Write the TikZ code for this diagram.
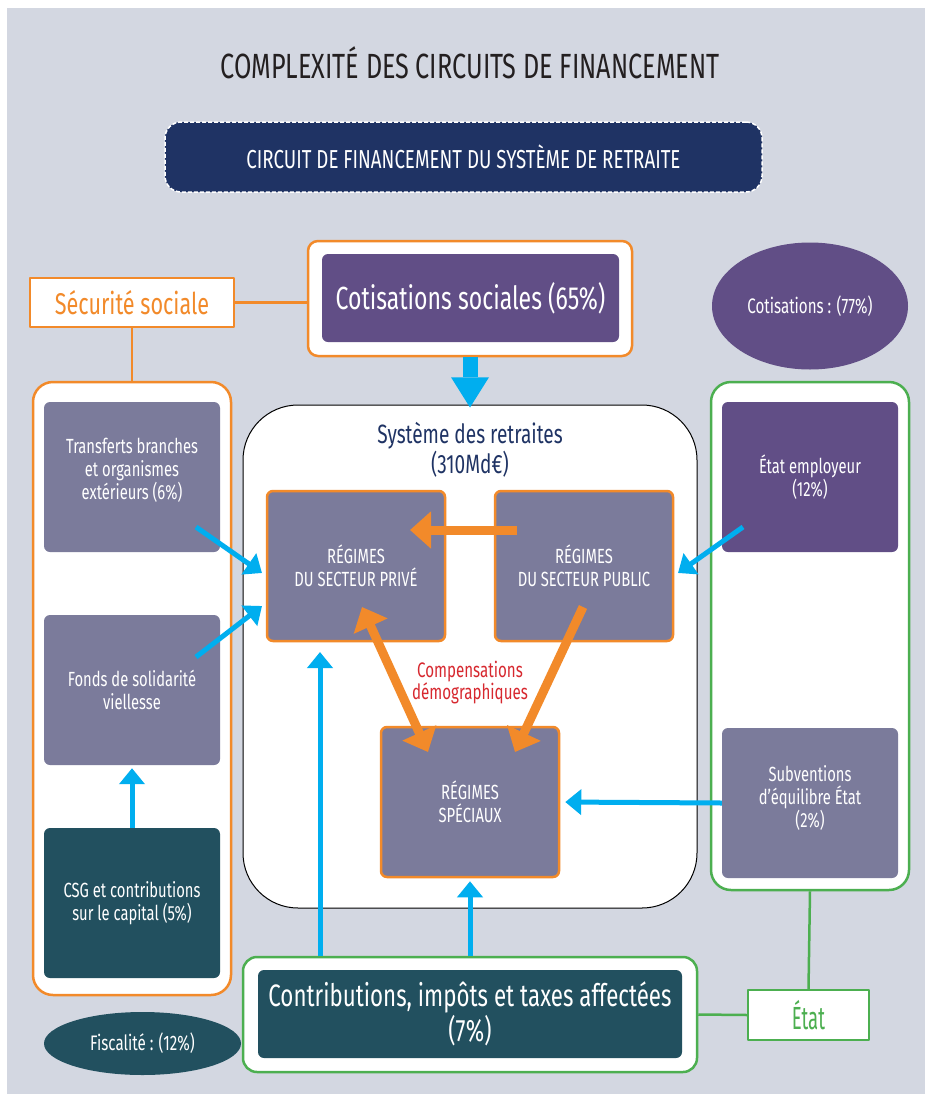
\documentclass[tikz,border=0pt]{standalone}
\usepackage{fontspec}
\setmainfont{Fira Sans}[FakeStretch=0.72]
\newfontfamily\narrowfont{Fira Sans}[FakeStretch=0.58]
\usetikzlibrary{arrows.meta,shapes.geometric}

\definecolor{bgcol}{HTML}{D3D7E1}
\definecolor{navy}{HTML}{1F3364}
\definecolor{plum}{HTML}{614E86}
\definecolor{slate}{HTML}{7B7B9B}
\definecolor{teal}{HTML}{22505F}
\definecolor{orng}{HTML}{F28A2A}
\definecolor{grn}{HTML}{4CAF50}
\definecolor{sky}{HTML}{00AEEF}
\definecolor{rouge}{HTML}{D7282F}
\definecolor{ink}{HTML}{231F20}

\begin{document}
\begin{tikzpicture}[x=1pt,y=-1pt,line join=round]
\tikzstyle{every node}=[align=center, inner sep=0pt]
\tikzstyle{tiletext}=[text=white, font=\fontsize{20.5}{23}\selectfont]
\tikzstyle{tile}=[rectangle, rounded corners=6pt, minimum width=176pt, minimum height=150pt, tiletext]
\tikzstyle{regime}=[tile, draw=orng, line width=2.5pt, minimum width=178pt]
\tikzstyle{frame}=[draw, fill=white, rounded corners=20pt, line width=2.5pt]
\tikzstyle{tag}=[draw, fill=white, line width=1.5pt]
\tikzstyle{blob}=[ellipse, text=white, font=\fontsize{21}{24}\selectfont]
\tikzstyle{flow}=[draw=sky, line width=5pt, -{Triangle[length=16pt,width=25pt]}]
\tikzstyle{comp}=[draw=orng, line width=9pt, -{Triangle[length=21pt,width=36pt]}]

\useasboundingbox (0,0) rectangle (927,1098);
\fill[bgcol] (7,8) rectangle (925,1094);

\node[text=ink] (title) at (470,63) {\fontsize{35}{38}\selectfont COMPLEXITÉ DES CIRCUITS DE FINANCEMENT};
\node[fill=navy, draw=white, dash pattern=on 4pt off 2pt, line width=1.5pt, rounded corners=16pt,
      minimum width=597pt, minimum height=70pt, text=white, font=\fontsize{26}{28}\selectfont]
      (head) at (463.5,157) {CIRCUIT DE FINANCEMENT DU SYSTÈME DE RETRAITE};

% outer frames
\node[frame, draw=orng, rounded corners=10pt, minimum width=324pt, minimum height=115pt] (cotout) at (470,298.5) {};
\node[frame, draw=orng, minimum width=198pt, minimum height=613pt] (left) at (132,688.5) {};
\node[frame, draw=grn, minimum width=198pt, minimum height=508pt] (right) at (810,636) {};
\node[frame, draw=grn, rounded corners=14pt, minimum width=454pt, minimum height=115pt] (contout) at (470,1014.5) {};
\node[draw=black, fill=white, line width=1pt, rounded corners=55pt, minimum width=454pt, minimum height=503pt] (sys) at (470,656.5) {};

% labels
\node[tag, draw=orng, text=orng, minimum width=204pt, minimum height=49pt, font=\fontsize{30}{32}\selectfont] (secu) at (132,302.5) {Sécurité sociale};
\node[tag, draw=grn, text=grn, minimum width=121pt, minimum height=50pt, font=\narrowfont\fontsize{32}{34}\selectfont] (etat) at (808.5,1015) {État};

% sources
\node[tile, fill=plum, minimum width=297pt, minimum height=88pt, font=\fontsize{32}{36}\selectfont] (cotis) at (470.5,298) {Cotisations sociales (65\%)};
\node[blob, fill=plum, minimum width=196pt, minimum height=127pt] (cot77) at (810,306) {Cotisations : (77\%)};
\node[tile, fill=slate, label={[tiletext, yshift=7pt]center:Transferts branches\\et organismes\\extérieurs (6\%)}] (transf) at (132,477) {};
\node[tile, fill=slate] (fonds) at (132,690) {Fonds de solidarité\\viellesse};
\node[tile, fill=teal] (csg) at (132,903) {CSG et contributions\\sur le capital (5\%)};
\node[tile, fill=plum] (etatemp) at (810,477) {État employeur\\(12\%)};
\node[tile, fill=slate, label={[tiletext, yshift=5pt]center:Subventions\\d’équilibre État\\(2\%)}] (subv) at (810,803) {};
\node[tile, fill=teal, minimum width=424pt, minimum height=88pt, font=\fontsize{31}{35}\selectfont] (contrib) at (470,1014) {Contributions, impôts et taxes affectées\\(7\%)};
\node[blob, fill=teal, minimum width=197pt, minimum height=63pt] (fisc) at (142.5,1043.5) {Fiscalité : (12\%)};

% pension schemes
\node[text=navy, font=\fontsize{26.5}{30}\selectfont] (systitle) at (470,450) {Système des retraites\\(310Md€)};
\node[regime, fill=slate] (prive) at (356,566) {RÉGIMES\\DU SECTEUR PRIVÉ};
\node[regime, fill=slate] (public) at (584,566) {RÉGIMES\\DU SECTEUR PUBLIC};
\node[regime, fill=slate] (spec) at (470,802) {RÉGIMES\\SPÉCIAUX};
\node[text=rouge, font=\fontsize{21}{22}\selectfont] (compens) at (470,683) {Compensations\\démographiques};

% links
\draw[orng, line width=2.5pt] (secu.east) -- (secu.east -| cotout.west);
\draw[orng, line width=2.5pt] (secu.south) -- (left.north);
\draw[grn, line width=2.5pt] (right.south) -- (etat.north);
\draw[grn, line width=2.5pt] (contout.east) -- (etat.west);

% flows
\draw[sky, line width=15pt] (cotout.south) -- ([yshift=-20pt]cotout.south);
\fill[sky] ([shift={(-19,20)}]cotout.south) -- ([shift={(19,20)}]cotout.south) -- ([yshift=-3pt]sys.north) -- cycle;
\draw[flow, shorten >=3pt] (csg.north) -- (fonds.south);
\draw[flow] ([shift={(64,50)}]transf.center) -- ([shift={(-94,7)}]prive.center);
\draw[flow] ([shift={(64,-33)}]fonds.center) -- ([shift={(-94,40)}]prive.center);
\draw[flow] ([shift={(-67,50)}]etatemp.center) -- ([shift={(94,7)}]public.center);
\draw[flow, shorten >=5pt] (subv.west) -- (spec.east);
\draw[flow] ([xshift=-150pt]contout.north) -- ([shift={(-36,86)}]prive.center);
\draw[flow, shorten >=3pt] (contout.north) -- (spec.south);

% compensations
\draw[comp] ([shift={(-67,-36)}]public.center) -- ([shift={(54,-36)}]prive.center);
\draw[comp, {Triangle[length=21pt,width=36pt]}-{Triangle[length=21pt,width=36pt]}] ([shift={(6,41)}]prive.center) -- ([shift={(-42,-50)}]spec.center);
\draw[comp] ([shift={(-1,41)}]public.center) -- ([shift={(45,-50)}]spec.center);
\end{tikzpicture}
\end{document}
